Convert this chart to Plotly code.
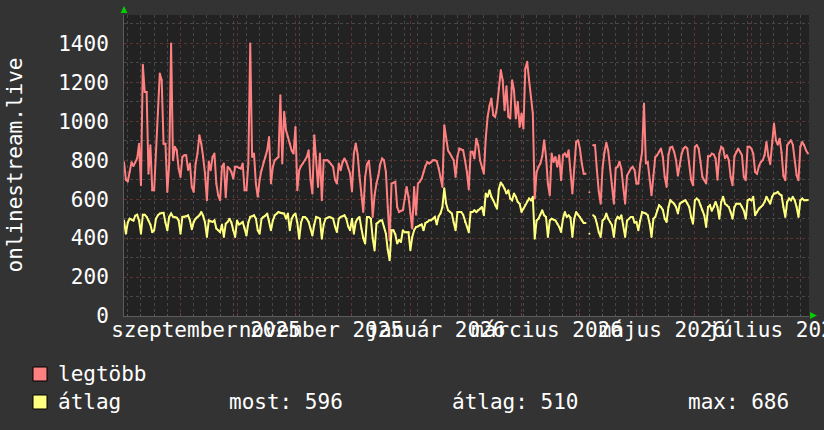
import plotly.graph_objects as go
import pandas as pd

# ---------------- data (daily values, first day 2025-08-02) ----------------
start_date = "2025-08-02"

legtobb = [
    790, 700, 690, 740, 790, 770, 790,
    810, 885, 672, 1290, 1150, 1150, 730,
    877, 646, 646, 850, 1040, 1246, 1211,
    885, 885, 637, 783, 1400, 800, 869,
    851, 757, 714, 817, 826, 826, 750,
    783, 663, 637, 783, 834, 929, 886,
    817, 731, 594, 792, 749, 817, 834,
    680, 620, 594, 766, 783, 610, 766,
    757, 740, 706, 766, 766, 760, 757,
    783, 646, 646, 783, 1400, 817, 834,
    680, 612, 700, 749, 790, 817, 851,
    920, 680, 766, 800, 809, 817, 1134,
    783, 1049, 954, 920, 886, 850, 834,
    971, 646, 749, 770, 783, 800, 817,
    851, 700, 629, 929, 817, 663, 834,
    594, 800, 800, 800, 790, 780, 766,
    700, 680, 783, 749, 790, 809, 791,
    760, 731, 640, 834, 886, 830, 720,
    620, 534, 714, 780, 797, 700, 509,
    620, 680, 720, 780, 809, 800, 740,
    560, 389, 680, 685, 689, 560, 534,
    540, 543, 600, 663, 612, 526, 449,
    663, 520, 680, 690, 706, 740, 770,
    791, 783, 790, 800, 800, 795, 760,
    714, 663, 980, 900, 850, 834, 815,
    800, 714, 820, 860, 855, 851, 800,
    740, 650, 843, 843, 809, 911, 877,
    800, 760, 731, 911, 1023, 1080, 1117,
    1031, 1023, 1074, 1169, 1263, 1211, 1057,
    1180, 1023, 1014, 1211, 1160, 1014, 1100,
    971, 1040, 963, 1271, 1306, 1211, 1126,
    1040, 603, 740, 766, 783, 820, 903,
    817, 680, 620, 834, 791, 817, 766,
    826, 697, 826, 834, 817, 851, 749,
    629, 760, 894, 903, 860, 783, 731,
    731, None, 635, None, 877, 877, 750,
    640, 577, 760, 840, 890, 850, 760,
    680, 577, 760, 766, 792, 755, 663,
    577, 720, 740, 757, 766, 750, 680,
    680, 780, 843, 1091, 783, 790, 700,
    620, 720, 817, 826, 843, 860, 817,
    714, 663, 830, 865, 869, 843, 800,
    720, 770, 834, 860, 869, 860, 790,
    700, 672, 869, 877, 860, 790, 714,
    697, 680, 820, 820, 834, 830, 809,
    700, 834, 869, 860, 810, 826, 800,
    714, 672, 820, 843, 860, 843, 826,
    714, 697, 869, 869, 860, 834, 740,
    731, 770, 791, 800, 826, 894, 820,
    780, 900, 989, 903, 880, 911, 840,
    720, 697, 877, 890, 903, 880, 791,
    723, 697, 869, 894, 877, 851, 834,
]

atlag = [
    491, 423, 480, 500, 495, 490, 515,
    520, 490, 423, 520, 520, 510, 491,
    470, 430, 440, 500, 517, 526, 530,
    530, 480, 440, 509, 526, 510, 509,
    505, 491, 423, 509, 509, 512, 517,
    491, 445, 483, 500, 509, 517, 534,
    515, 480, 406, 491, 485, 483, 491,
    450, 440, 431, 470, 406, 474, 483,
    500, 480, 440, 406, 491, 470, 475,
    483, 450, 414, 480, 509, 512, 517,
    500, 440, 423, 500, 509, 515, 526,
    490, 440, 490, 517, 525, 534, 530,
    526, 526, 500, 526, 440, 500, 517,
    526, 480, 397, 480, 509, 509, 500,
    483, 450, 414, 470, 509, 505, 500,
    397, 470, 500, 505, 509, 505, 500,
    460, 431, 500, 509, 512, 517, 500,
    460, 440, 500, 423, 483, 500, 509,
    450, 400, 372, 509, 509, 500, 400,
    337, 474, 480, 490, 491, 457, 423,
    340, 286, 440, 440, 420, 372, 390,
    380, 440, 430, 430, 430, 338, 406,
    440, 457, 460, 466, 470, 440, 478,
    483, 492, 492, 500, 509, 470, 512,
    527, 560, 656, 577, 543, 535, 526,
    480, 440, 534, 534, 534, 520, 483,
    460, 430, 534, 534, 543, 534, 545,
    551, 560, 517, 629, 612, 646, 612,
    594, 569, 551, 654, 686, 671, 654,
    629, 646, 603, 594, 629, 612, 586,
    577, 534, 551, 570, 590, 603, 594,
    612, 397, 491, 500, 520, 543, 517,
    509, 406, 491, 500, 495, 491, 474,
    457, 431, 500, 534, 509, 517, 505,
    406, 500, 534, 520, 509, 490, 478,
    478, None, 423, None, 517, 509, 474,
    430, 406, 491, 500, 526, 500, 483,
    466, 406, 491, 509, 500, 517, 470,
    406, 490, 500, 509, 509, 480, 483,
    440, 491, 534, 530, 526, 517, 474,
    406, 500, 509, 543, 569, 560, 545,
    500, 483, 560, 594, 586, 577, 560,
    526, 577, 586, 590, 594, 580, 560,
    510, 474, 594, 603, 594, 569, 543,
    517, 457, 560, 569, 540, 560, 586,
    560, 500, 586, 612, 577, 569, 560,
    534, 500, 560, 577, 577, 577, 560,
    540, 500, 594, 600, 594, 612, 517,
    534, 551, 560, 569, 586, 612, 594,
    577, 612, 629, 630, 637, 625, 620,
    560, 509, 586, 603, 594, 612, 594,
    560, 509, 594, 603, 594, 594, 596,
]

series_names = ["legtöbb", "átlag"]
stat_labels = ["most: 596", "átlag: 510", "max: 686"]
y_title = "onlinestream.live"

month_grid = list(pd.date_range("2025-09-01", "2026-07-01", freq="MS"))
label_dates = ["2025-09-14 12:00", "2025-11-14 12:00", "2026-01-14 12:00",
               "2026-03-14 12:00", "2026-05-14 12:00", "2026-07-14 12:00"]
label_texts = ["szeptember 2025", "november 2025", "január 2026",
               "március 2026", "május 2026", "július 2026"]
y_ticks = [0, 200, 400, 600, 800, 1000, 1200, 1400]

x_range = ["2025-08-02 00:00", "2026-07-31 14:00"]
y_range = [0, 1546]

dates = pd.date_range(start_date, periods=len(atlag), freq="D")

# ---------------- style ----------------
W, H = 824, 430
L, R, T, B = 124, 15, 15, 114
PW, PH = W - L - R, H - T - B
FONT = "DejaVu Sans Mono"
FS = 21
RED = "#FF8080"
YEL = "#FFFF80"
MGRID = "#603232"
GRID = "#474747"
AXIS = "#5c5c5c"


def px(xp):
    return (xp - L) / PW


def py(yp):
    return (H - B - yp) / PH


fig = go.Figure()
fig.add_trace(go.Scatter(
    x=dates, y=legtobb, mode="lines+markers", name=series_names[0],
    line=dict(color=RED, width=2), marker=dict(size=2, color=RED),
    connectgaps=False, hoverinfo="skip", xaxis="x", yaxis="y"))
fig.add_trace(go.Scatter(
    x=dates, y=atlag, mode="lines+markers", name=series_names[1],
    line=dict(color=YEL, width=2), marker=dict(size=2, color=YEL),
    connectgaps=False, hoverinfo="skip", xaxis="x2", yaxis="y"))

fig.update_layout(
    width=W, height=H,
    margin=dict(l=L, r=R, t=T, b=B, pad=0, autoexpand=False),
    paper_bgcolor="#333333", plot_bgcolor="#222222",
    showlegend=False, hovermode=False,
    font=dict(family=FONT, size=FS, color="#FFFFFF"),
    xaxis=dict(
        type="date", range=x_range, tickmode="array", automargin=False,
        tickvals=month_grid, ticktext=[""] * len(month_grid),
        showgrid=True, gridcolor=MGRID, griddash="dot", gridwidth=1,
        ticks="inside", ticklen=3, tickcolor="#7a3a3a",
        showline=True, linecolor=AXIS, linewidth=1, zeroline=False,
        minor=dict(dtick=7 * 86400000, tick0="2025-08-04",
                   showgrid=True, gridcolor=GRID, griddash="dot",
                   ticks="inside", ticklen=2, tickcolor="#555555"),
    ),
    xaxis2=dict(
        type="date", range=x_range, overlaying="x", side="bottom",
        anchor="y", tickmode="array", tickvals=label_dates, automargin=False,
        ticktext=label_texts, showgrid=False, zeroline=False,
        tickangle=0, ticks="", ticklabeloverflow="allow",
        tickfont=dict(family=FONT, size=FS, color="#FFFFFF"),
        ticklabelstandoff=-1,
    ),
    yaxis=dict(
        range=y_range, tickmode="array", tickvals=y_ticks, automargin=False,
        showgrid=True, gridcolor=MGRID, griddash="dot", gridwidth=1,
        ticks="", showline=True, linecolor=AXIS, linewidth=1,
        zeroline=False, ticklabelstandoff=10,
        tickfont=dict(family=FONT, size=FS, color="#FFFFFF"),
        minor=dict(dtick=100, tick0=0, showgrid=True, gridcolor=GRID,
                   griddash="dot"),
    ),
)

ann = []
ann.append(dict(text=y_title, xref="paper", yref="paper", x=px(14), y=0.5,
                xanchor="center", yanchor="middle", textangle=-90,
                showarrow=False, font=dict(family=FONT, size=FS, color="#FFFFFF")))
ann.append(dict(text=series_names[0], xref="paper", yref="paper", x=px(56), y=py(374),
                xanchor="left", yanchor="middle", showarrow=False,
                font=dict(family=FONT, size=FS, color="#FFFFFF")))
ann.append(dict(text=series_names[1], xref="paper", yref="paper", x=px(56), y=py(402),
                xanchor="left", yanchor="middle", showarrow=False,
                font=dict(family=FONT, size=FS, color="#FFFFFF")))
for xpos, t in zip([227, 450, 686], stat_labels):
    ann.append(dict(text=t, xref="paper", yref="paper", x=px(xpos), y=py(402),
                    xanchor="left", yanchor="middle", showarrow=False,
                    font=dict(family=FONT, size=FS, color="#FFFFFF")))
fig.update_layout(annotations=ann)

shapes = []
for (y0, y1), col in zip([(367, 381), (395, 409)], [RED, YEL]):
    shapes.append(dict(type="rect", xref="paper", yref="paper",
                       x0=px(33), x1=px(47), y0=py(y1), y1=py(y0),
                       fillcolor=col, line=dict(color="#000000", width=1)))
# green axis arrows
shapes.append(dict(type="path", xref="paper", yref="paper",
                   path=f"M {px(120.5)},{py(13)} L {px(127.5)},{py(13)} L {px(124)},{py(6)} Z",
                   fillcolor="#00CC00", line=dict(color="#00CC00", width=0)))
shapes.append(dict(type="path", xref="paper", yref="paper",
                   path=f"M {px(810)},{py(312)} L {px(810)},{py(319)} L {px(817)},{py(315.5)} Z",
                   fillcolor="#00CC00", line=dict(color="#00CC00", width=0)))
fig.update_layout(shapes=shapes)

fig.write_html(
    "out.html",
    config={"displayModeBar": False, "staticPlot": True},
    post_script="document.body.style.margin='0px';document.body.style.overflow='hidden';",
)
